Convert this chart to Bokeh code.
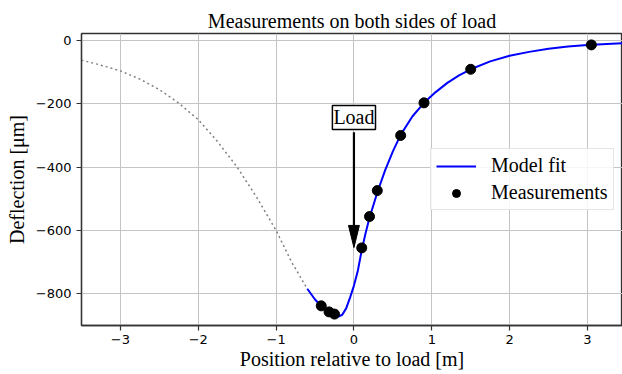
from bokeh.plotting import figure
from bokeh.models import Range1d, FixedTicker, Label, Legend, LegendItem
from bokeh.embed import file_html
from bokeh.resources import INLINE

# ---- data ----
meas_x = [-0.42, -0.32, -0.25, 0.1, 0.2, 0.3, 0.6, 0.9, 1.5, 3.05]
meas_y = [-838, -857, -864, -655, -556, -474, -300, -197, -91, -14]

fit_x = [-0.6, -0.5, -0.4, -0.3, -0.25, -0.2, -0.15, -0.1, -0.05, 0.0, 0.05, 0.1, 0.15,
         0.2, 0.3, 0.4, 0.5, 0.6, 0.75, 0.9, 1.05, 1.2, 1.35, 1.5, 1.75, 2.0, 2.25,
         2.5, 2.75, 3.0, 3.25, 3.5]
fit_y = [-784, -818, -844, -862, -869, -872, -866, -846, -812, -774, -727, -662, -608,
         -560, -480, -410, -350, -298, -240, -197, -163, -134, -110, -91, -66, -48, -36,
         -26, -19, -14, -11, -8]

extrap_x = [-3.5, -3.25, -3.0, -2.75, -2.5, -2.25, -2.0, -1.75, -1.5, -1.25, -1.0, -0.8, -0.6]
extrap_y = [-62, -78, -96, -122, -155, -198, -250, -320, -400, -495, -600, -700, -784]

x_ticks = [-3, -2, -1, 0, 1, 2, 3]
x_tick_labels = ["\u22123", "\u22122", "\u22121", "0", "1", "2", "3"]
y_ticks = [0, -200, -400, -600, -800]
y_tick_labels = ["0", "\u2212200", "\u2212400", "\u2212600", "\u2212800"]

load_x = 0.0
load_label_y = -243
arrow_start_y = -290
arrow_tip_y = -654

SERIF = "Liberation Serif"
SPINE = "#333333"

p = figure(width=622, height=374, output_backend="svg", toolbar_location=None,
           x_range=Range1d(-3.5, 3.45), y_range=Range1d(-900, 22),
           min_border_left=81, min_border_right=0, min_border_top=33, min_border_bottom=49,
           background_fill_color="white", border_fill_color="white")

p.title.text = "Measurements on both sides of load"
p.title.align = "center"
p.title.text_font = SERIF
p.title.text_font_size = "20px"
p.title.text_font_style = "normal"
p.title.text_color = "black"
p.title.standoff = 4

p.outline_line_color = SPINE
p.outline_line_width = 1.3

for ax, ticks, labels in ((p.xaxis[0], x_ticks, x_tick_labels), (p.yaxis[0], y_ticks, y_tick_labels)):
    ax.ticker = FixedTicker(ticks=ticks)
    ax.major_label_overrides = {t: l for t, l in zip(ticks, labels)}
    ax.major_label_text_font = "DejaVu Sans"
    ax.major_label_text_font_size = "13px"
    ax.major_label_text_color = "black"
    ax.major_tick_out = 5
    ax.major_tick_in = 0
    ax.minor_tick_out = 0
    ax.minor_tick_in = 0
    ax.axis_line_color = SPINE
    ax.axis_line_width = 1.3
    ax.major_tick_line_color = SPINE
    ax.major_tick_line_width = 1.2
    ax.axis_label_text_font = SERIF
    ax.axis_label_text_font_size = "20px"
    ax.axis_label_text_font_style = "normal"
    ax.axis_label_text_color = "black"

p.xaxis.major_label_standoff = 4
p.xaxis.axis_label_standoff = 1
p.yaxis.major_label_standoff = 5
p.yaxis.axis_label_standoff = 5

p.xaxis.axis_label = "Position relative to load [m]"
p.yaxis.axis_label = "Deflection [\u03bcm]"

p.xgrid.ticker = FixedTicker(ticks=x_ticks)
p.ygrid.ticker = FixedTicker(ticks=y_ticks)
p.grid.grid_line_color = "#c4c4c4"
p.grid.grid_line_width = 1

p.line(extrap_x, extrap_y, line_color="gray", line_width=1.5, line_dash="2 3")
fit = p.line(fit_x, fit_y, line_color="blue", line_width=2)
meas = p.scatter(meas_x, meas_y, size=10, fill_color="black", line_color="black")

# annotation arrow
p.segment(x0=[load_x], y0=[arrow_start_y], x1=[load_x], y1=[arrow_tip_y + 60],
          line_color="black", line_width=2.2)
head_dx = 0.07
head_dy = 70
p.patch([load_x - head_dx, load_x + head_dx, load_x],
        [arrow_tip_y + head_dy, arrow_tip_y + head_dy, arrow_tip_y],
        fill_color="black", line_color="black", line_width=1)

p.add_layout(Label(x=load_x, y=load_label_y, text="Load", text_align="center",
                   text_baseline="middle", text_font=SERIF, text_font_size="20px",
                   text_color="black", border_line_color="black", border_line_width=1.5,
                   background_fill_color="white", padding=1))

legend = Legend(items=[LegendItem(label="Model fit", renderers=[fit]),
                       LegendItem(label="Measurements", renderers=[meas])],
                location=(349, 115))
legend.label_text_font = SERIF
legend.label_text_font_size = "20px"
legend.label_text_color = "black"
legend.glyph_width = 40
legend.glyph_height = 20
legend.label_standoff = 15
legend.spacing = 4
legend.padding = 5
legend.margin = 0
legend.border_line_color = "#cccccc"
legend.border_line_width = 1
legend.background_fill_color = "white"
legend.background_fill_alpha = 0.85
p.add_layout(legend)

open("out.html", "w").write(file_html(p, INLINE))
